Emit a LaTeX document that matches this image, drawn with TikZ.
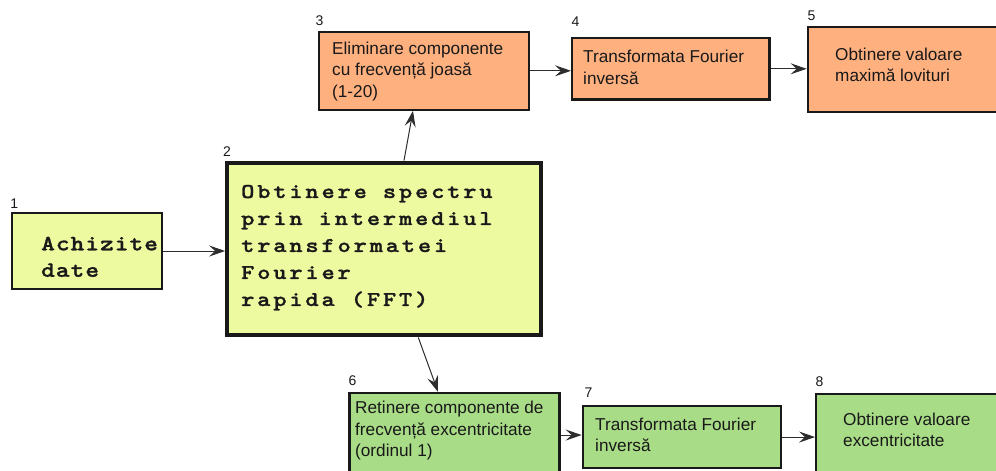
\documentclass[tikz,border=0pt]{standalone}
\usepackage{fontspec}
\setmainfont{Liberation Sans}
\newfontfamily\monoA[FakeStretch=1.2,FakeBold=1.2,LetterSpace=4.5]{lmmonolt10-bold.otf}
\newfontfamily\monoB[FakeStretch=1.2,FakeBold=1.2,LetterSpace=13.5]{lmmonolt10-bold.otf}
\usetikzlibrary{arrows.meta,calc}
\definecolor{fillY}{RGB}{238,250,160}
\definecolor{fillO}{RGB}{255,176,127}
\definecolor{fillG}{RGB}{168,220,134}
\definecolor{ink}{RGB}{25,25,25}
\definecolor{linkc}{RGB}{45,45,45}
\tikzset{
  boxstyle/.style={draw=ink, line width=2.3pt, inner sep=0pt},
  thickbox/.style={draw=ink, line width=4.3pt, inner sep=0pt},
  sanstext/.style={anchor=north west, inner sep=0pt, align=left, text=ink,
    font=\fontsize{17.2}{21.5}\selectfont},
  monotextA/.style={anchor=north west, inner sep=0pt, align=left, text=ink,
    font=\monoA\fontsize{21.8}{26.5}\selectfont},
  monotextB/.style={anchor=north west, inner sep=0pt, align=left, text=ink,
    font=\monoB\fontsize{21}{27}\selectfont},
  numlabel/.style={anchor=base west, inner sep=0pt, text=ink,
    font=\fontsize{14}{16}\selectfont},
  link/.style={draw=linkc, line width=1pt,
    -{Stealth[length=16pt,width=11pt,inset=6pt]}}
}
\begin{document}
\begin{tikzpicture}[x=1pt,y=-1pt]
\useasboundingbox (0,0) rectangle (996,471);
\clip (0,0) rectangle (996,471);
\fill[white] (0,0) rectangle (996,471);

% boxes
\node[boxstyle, fill=fillY, minimum width=150pt, minimum height=76pt] (b1) at (87,251) {};
\node[thickbox, fill=fillY, minimum width=314pt, minimum height=172.6pt] (b2) at (384.3,249) {};
\node[boxstyle, fill=fillO, minimum width=209.5pt, minimum height=77.7pt] (b3) at (424,70.8) {};
\node[boxstyle, fill=fillO, minimum width=197.3pt, minimum height=61.5pt] (b4) at (670.8,68.8) {};
\node[boxstyle, fill=fillO, minimum width=202.2pt, minimum height=84.7pt] (b5) at (908.9,69.65) {};
\node[boxstyle, fill=fillG, minimum width=210pt, minimum height=97pt] (b6) at (454.5,441.5) {};
\node[boxstyle, fill=fillG, minimum width=198.2pt, minimum height=61.5pt] (b7) at (681.9,437.05) {};
\node[boxstyle, fill=fillG, minimum width=193.8pt, minimum height=96.3pt] (b8) at (913.1,441.85) {};

% texts
\node[monotextA] (t1) at (41,236.5) {Achizite\\date};
\node[monotextB] (t2) at (241,184.7) {Obtinere spectru\\prin intermediul\\transformatei\\Fourier\\rapida (FFT)};
\node[sanstext] (t3) at (332,41.7) {Eliminare componente\\cu frecvență joasă\\(1-20)};
\node[sanstext] (t4) at (583,50) {Transformata Fourier\\inversă};
\node[sanstext] (t5) at (835,47.7) {Obtinere valoare\\maximă lovituri};
\node[sanstext] (t6) at (355,401) {Retinere componente de\\frecvență excentricitate\\(ordinul 1)};
\node[sanstext] (t7) at (595,417.7) {Transformata Fourier\\inversă};
\node[sanstext] (t8) at (843,412.7) {Obtinere valoare\\excentricitate};

% number labels
\node[numlabel] (n1) at (10.2,208) {1};
\node[numlabel] (n2) at (222.8,156) {2};
\node[numlabel] (n3) at (315.5,25) {3};
\node[numlabel] (n4) at (571.4,26) {4};
\node[numlabel] (n5) at (807.4,20) {5};
\node[numlabel] (n6) at (348.4,385) {6};
\node[numlabel] (n7) at (584.3,397) {7};
\node[numlabel] (n8) at (815.4,386) {8};

% connectors
\coordinate (a67) at ($(b7.west)+(0,-2)$);
\draw[link] (b1.east) -- (b1.east -| b2.west);
\draw[link] ([xshift=19.7pt]b2.north) -- ([xshift=-11pt]b3.south);
\draw[link] ([xshift=34pt]b2.south) -- ([xshift=-16.5pt]b6.north);
\draw[link] (b3.east) -- (b3.east -| b4.west);
\draw[link] (b4.east) -- (b4.east -| b5.west);
\draw[link] (b6.east |- a67) -- (a67);
\draw[link] (b7.east) -- (b7.east -| b8.west);
\end{tikzpicture}
\end{document}
